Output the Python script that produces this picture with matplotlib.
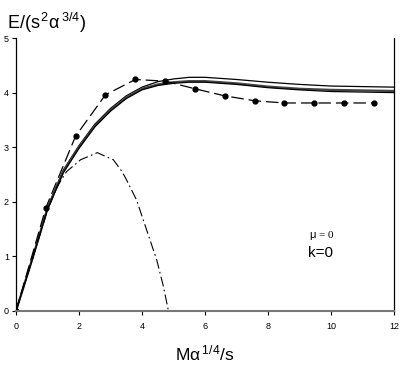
import matplotlib
matplotlib.use('Agg')
import matplotlib.pyplot as plt

plt.rcParams['font.family'] = ['Liberation Sans', 'DejaVu Sans']
plt.rcParams['mathtext.fontset'] = 'custom'
plt.rcParams['mathtext.rm'] = 'Liberation Sans'
plt.rcParams['mathtext.it'] = 'Liberation Sans'

# solid curves (three close branches)
x_solid = [0, 0.5, 1, 1.5, 2, 2.5, 3, 3.5, 4, 4.5, 5, 5.5, 6, 7, 8, 9, 10, 11, 12]
y_top = [0, 0.93, 1.90, 2.58, 3.03, 3.42, 3.71, 3.94, 4.10, 4.20, 4.25, 4.28, 4.28, 4.24, 4.19, 4.15, 4.12, 4.11, 4.10]
y_mid = [0, 0.92, 1.88, 2.55, 3.00, 3.39, 3.68, 3.91, 4.07, 4.15, 4.19, 4.21, 4.21, 4.17, 4.11, 4.07, 4.05, 4.04, 4.03]
y_low = [0, 0.91, 1.86, 2.53, 2.98, 3.37, 3.66, 3.89, 4.05, 4.13, 4.17, 4.19, 4.19, 4.15, 4.09, 4.05, 4.02, 4.01, 4.00]

# dashed line with dots
x_dots = [0, 0.947, 1.89, 2.84, 3.79, 4.73, 5.68, 6.63, 7.58, 8.52, 9.47, 10.41, 11.36]
y_dots = [0, 1.89, 3.20, 3.96, 4.24, 4.21, 4.07, 3.94, 3.85, 3.81, 3.81, 3.81, 3.81]

# dash-dot curve
x_dd = [0, 0.5, 1.0, 1.31, 1.6, 2.05, 2.58, 3.09, 3.37, 3.51, 3.83, 4.15, 4.47, 4.68, 4.84]
y_dd = [0, 0.91, 1.85, 2.28, 2.55, 2.77, 2.90, 2.77, 2.55, 2.40, 2.03, 1.48, 0.93, 0.45, 0]

fig = plt.figure(figsize=(4.15, 3.67), dpi=100)
ax = fig.add_axes([16/415, 1-311/367, (394-16)/415, (311-38)/367])

ax.plot(x_solid, y_top, color='black', lw=0.9)
ax.plot(x_solid, y_mid, color='#444444', lw=1.6)
ax.plot(x_solid, y_low, color='black', lw=0.9)
ax.plot(x_dots, y_dots, color='black', lw=0.9, dashes=(10, 4), marker='o', ms=3.5)
ax.plot(x_dd, y_dd, color='black', lw=0.8, dashes=(9, 3, 1.5, 3))

ax.set_xlim(0, 12)
ax.set_ylim(0, 5)
ax.set_xticks(range(0, 13, 2))
ax.set_yticks(range(0, 6))
ax.tick_params(labelsize=6.5, length=3, width=0.8, direction='out')
ax.tick_params(axis='y', pad=2)
ax.tick_params(axis='x', pad=5)
ax.spines['top'].set_visible(False)
ax.spines['bottom'].set_color('#777777')
ax.spines['bottom'].set_linewidth(1.5)
ax.spines['left'].set_linewidth(0.9)
ax.spines['right'].set_linewidth(0.9)

ax.text(9.3, 1.34, r'$\mu$ = 0', fontsize=8, family=['Liberation Serif', 'DejaVu Serif'])
ax.text(9.26, 0.99, 'k=0', fontsize=11)

fig.text(7/415, 1-29/367, r'E/(s$^{\,2}\alpha^{\,3/4}$)', fontsize=13, va='baseline')
fig.text(205/415, 1-360/367, r'M$\alpha^{\,1/4}$/s', fontsize=12.5, va='baseline', ha='center')

fig.savefig('out.png', dpi=100)
